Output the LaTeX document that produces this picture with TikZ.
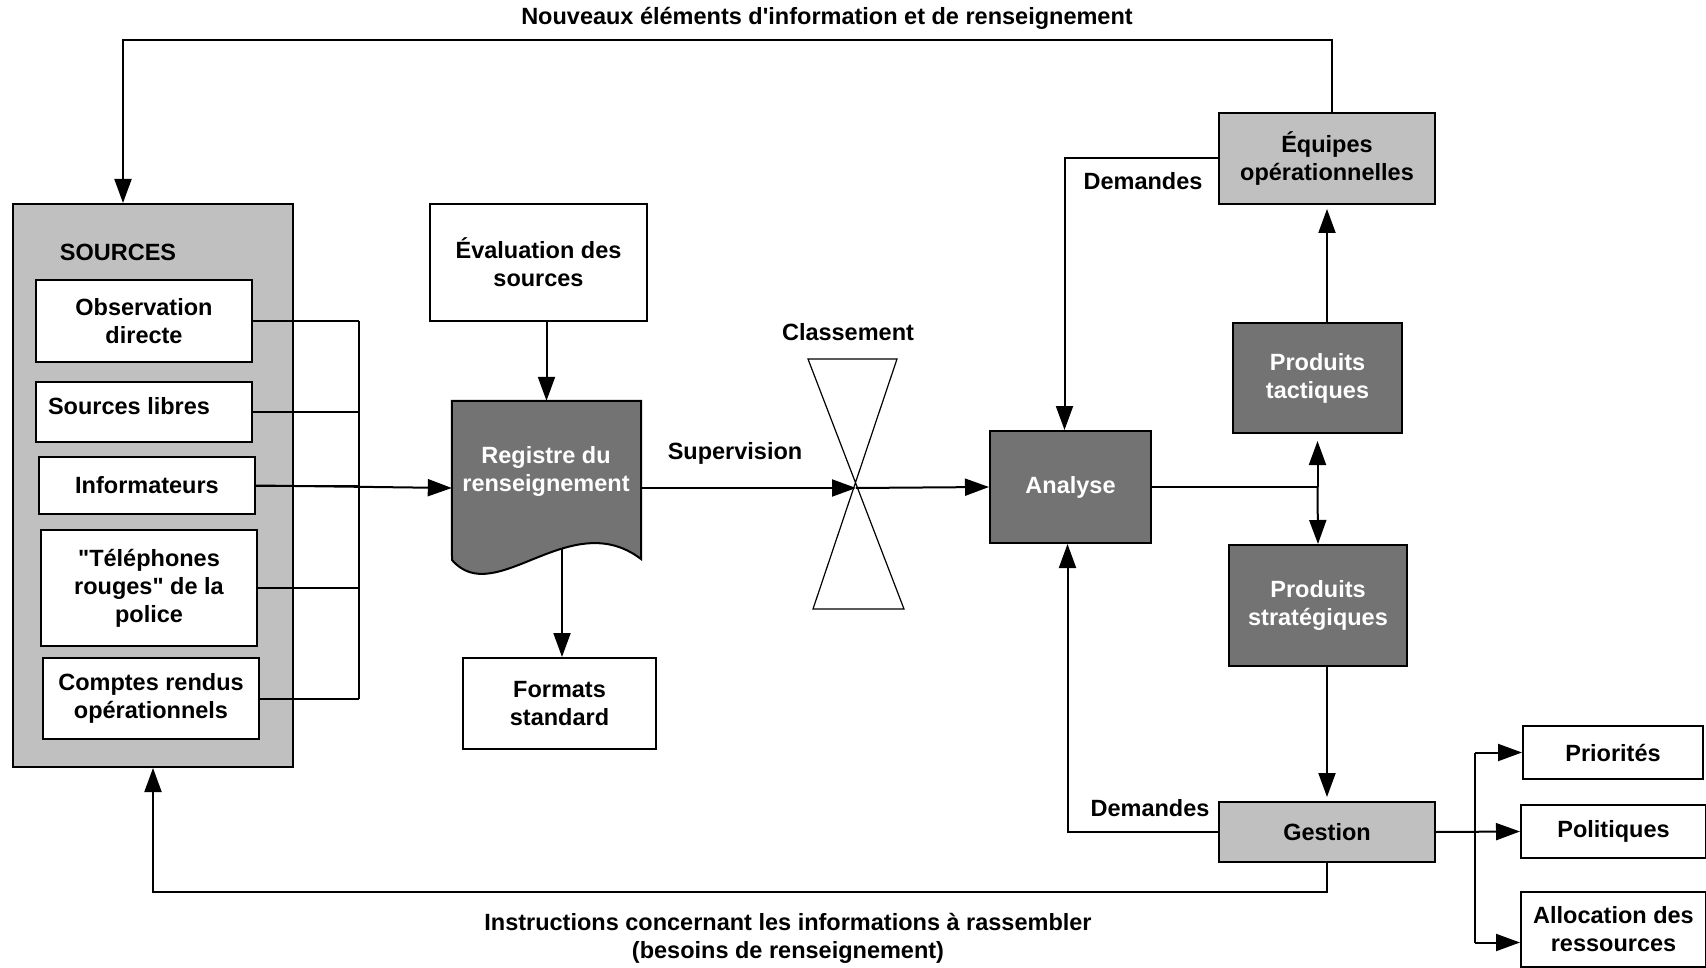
\documentclass[tikz,border=0pt]{standalone}
\usepackage{fontspec}
\setmainfont{Liberation Sans}[Ligatures=TeXOff]
\usetikzlibrary{arrows.meta}
\definecolor{lg}{HTML}{C0C0C0}
\definecolor{dg}{HTML}{737373}
\begin{document}
\begin{tikzpicture}[x=1pt,y=-1pt,
  font=\fontsize{23.5}{28}\selectfont\bfseries,
  box/.style={draw,line width=2pt,fill=white,inner sep=0pt,align=center},
  lbox/.style={box,fill=lg},
  dbox/.style={box,fill=dg,text=white},
  ln/.style={line width=2pt},
  arr/.style={line width=2pt,-{Triangle[length=24pt,width=17pt]}},
  lbl/.style={inner sep=0pt,align=center}]
\useasboundingbox (0,0) rectangle (1706,968);

% sources block
\node[lbox,minimum width=280pt,minimum height=563pt] (src) at (153,485.5) {};
\node[lbl] (srclbl) at (118,252) {SOURCES};
\node[box,minimum width=216pt,minimum height=82pt] (obs) at (144,321) {Observation\\directe};
\node[box,minimum width=216pt,minimum height=60pt] (libres) at (144,412) {};
\node[lbl] (libreslbl) at (129,406) {Sources libres};
\node[box,minimum width=216pt,minimum height=57pt] (inform) at (147,485.5) {Informateurs};
\node[box,minimum width=216pt,minimum height=116pt] (tel) at (149,588) {"Téléphones\\rouges" de la\\police};
\node[box,minimum width=216pt,minimum height=81pt] (comptes) at (151,698.5) {Comptes rendus\\opérationnels};

\coordinate (busx) at (359,0);
\foreach \n in {obs,libres,inform,tel,comptes}
  \draw[ln] (\n.east) -- (\n.east -| busx);
\draw[ln] (obs.east -| busx) -- (comptes.east -| busx);

% evaluation, registre, formats
\node[box,minimum width=217pt,minimum height=117pt] (eval) at (538.5,262.5) {Évaluation des\\sources};
\node[inner sep=0pt,minimum width=189pt,minimum height=174pt] (reg) at (546.5,488) {};
\draw[ln,fill=dg] (reg.north west) -- (reg.north east) -- (641,559)
  .. controls (570,505) and (495,610) .. (452,560) -- cycle;
\node[lbl,text=white] (reglbl) at (546,471) {Registre du\\renseignement};
\node[box,minimum width=193pt,minimum height=91pt] (formats) at (559.5,703.5) {Formats\\standard};

\draw[arr] (inform.east) -- (reg.west);
\draw[arr] (reg.north |- eval.south) -- (reg.north);
\coordinate (regbot) at (562,549);
\draw[arr] (regbot) -- (regbot |- formats.north);

% classement hourglass
\coordinate (cross) at (856,488);
\draw[line width=1.2pt] (808,359) -- (897,359) -- (813,609) -- (904,609) -- cycle;
\node[lbl] (classement) at (848,332) {Classement};
\node[lbl] (supervision) at (735,453) {Supervision};

% right side
\node[dbox,minimum width=161pt,minimum height=112pt] (analyse) at (1070.5,487) {Analyse};
\node[dbox,minimum width=169pt,minimum height=110pt] (tact) at (1317.5,378) {Produits\\tactiques};
\node[dbox,minimum width=178pt,minimum height=121pt] (strat) at (1318,605.5) {Produits\\stratégiques};
\node[lbox,minimum width=216pt,minimum height=91pt] (equipes) at (1327,158.5) {Équipes\\opérationnelles};
\node[lbox,minimum width=216pt,minimum height=60pt] (gestion) at (1327,832) {Gestion};
\node[box,minimum width=180pt,minimum height=53pt] (prio) at (1613,752.5) {Priorités};
\node[box,minimum width=185pt,minimum height=53pt] (poli) at (1613.5,831.5) {Politiques};
\node[box,minimum width=185pt,minimum height=75pt] (alloc) at (1613.5,929.5) {Allocation des\\ressources};

\draw[arr] (reg.east) -- (cross);
\draw[arr] (cross) -- (analyse.west);

\draw[arr,shorten >=4pt] (equipes.south |- tact.north) -- (equipes.south);
\coordinate (junc) at (analyse.east -| tact.south);
\draw[ln] (analyse.east) -- (junc);
\draw[arr,shorten >=7pt] (junc) -- (tact.south);
\draw[arr] (junc) -- (strat.north);
\draw[arr,shorten >=4pt] (gestion.north |- strat.south) -- (gestion.north);

\draw[arr] (equipes.west) -| ([xshift=-6pt]analyse.north);
\node[lbl] (dem1) at (1143,181) {Demandes};
\draw[arr] (gestion.west) -| ([xshift=-3pt]analyse.south);
\node[lbl] (dem2) at (1150,808) {Demandes};

% feedback loops
\coordinate (toploop) at (0,40);
\draw[arr] ([xshift=5pt]equipes.north) -- ([xshift=5pt]equipes.north |- toploop) -| ([xshift=-30pt]src.north);
\node[lbl] (toplbl) at (827,18) {Nouveaux éléments d'information et de renseignement};

\coordinate (botloop) at (0,892);
\draw[arr] (gestion.south) -- (gestion.south |- botloop) -| (src.south);
\node[lbl] (botlbl) at (788,938) {Instructions concernant les informations à rassembler\\(besoins de renseignement)};

% outputs of gestion
\coordinate (branch) at (1475,0);
\coordinate (allocin) at ([yshift=-13pt]alloc.west);
\draw[arr] (gestion.east) -- (poli.west);
\draw[ln] (branch |- prio.west) -- (branch |- allocin);
\draw[arr] (branch |- prio.west) -- (prio.west);
\draw[arr] (branch |- allocin) -- (allocin);
\end{tikzpicture}
\end{document}
